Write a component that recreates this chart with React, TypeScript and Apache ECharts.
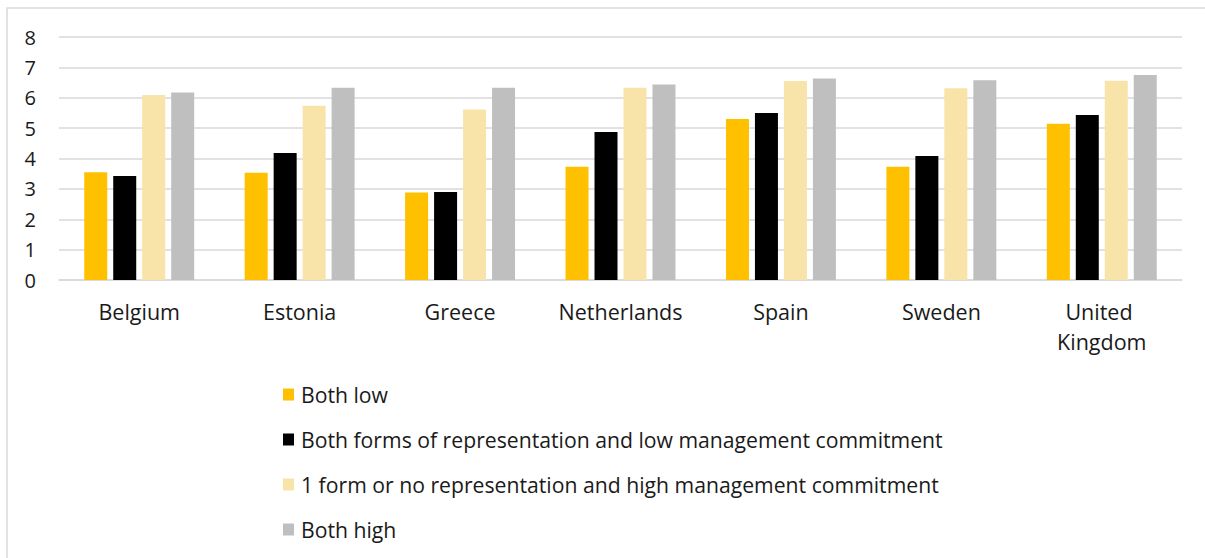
import React, { useEffect, useRef } from "react";
import * as echarts from "echarts";

const countries = ["Belgium", "Estonia", "Greece", "Netherlands", "Spain", "Sweden", "United Kingdom"];
const seriesNames = [
  "Both low",
  "Both forms of representation and low management commitment",
  "1 form or no representation and high management commitment",
  "Both high",
];
const bothLow = [3.55, 3.53, 2.88, 3.73, 5.3, 3.73, 5.14];
const repLowCommitment = [3.42, 4.18, 2.9, 4.87, 5.5, 4.08, 5.43];
const oneFormHighCommitment = [6.09, 5.74, 5.61, 6.33, 6.55, 6.31, 6.56];
const bothHigh = [6.17, 6.33, 6.33, 6.44, 6.63, 6.58, 6.75];
const seriesColors = ["#FFC000", "#000000", "#F8E3A9", "#BFBFBF"];

const seriesValues = [bothLow, repLowCommitment, oneFormHighCommitment, bothHigh];

export default function App() {
  const ref = useRef<HTMLDivElement>(null);

  useEffect(() => {
    if (!ref.current) return;
    const chart = echarts.init(ref.current, null, { renderer: "svg" });
    chart.setOption({
      animation: false,
      backgroundColor: "#ffffff",
      graphic: [
        {
          type: "rect",
          shape: { x: 7, y: 8, width: 1210, height: 570 },
          style: { fill: "none", stroke: "#d9d9d9", lineWidth: 1.5 },
          silent: true,
        },
      ],
      grid: { left: 59, right: 23, top: 37, bottom: 278 },
      xAxis: {
        type: "category",
        data: countries,
        axisTick: { show: false },
        axisLine: { show: true, lineStyle: { color: "#d9d9d9", width: 1.5 } },
        axisLabel: {
          color: "#1a1a1a",
          fontFamily: "Open Sans",
          fontSize: 21.5,
          lineHeight: 30,
          margin: 16,
          width: 145,
          overflow: "break",
          interval: 0,
        },
      },
      yAxis: {
        type: "value",
        min: 0,
        max: 8,
        interval: 1,
        axisLine: { show: false },
        axisTick: { show: false },
        splitLine: { lineStyle: { color: "#d9d9d9", width: 1.5 } },
        axisLabel: {
          color: "#1a1a1a",
          fontFamily: "Open Sans",
          fontSize: 20,
          margin: 23,
        },
      },
      legend: {
        orient: "vertical",
        left: 278,
        top: 377,
        itemWidth: 11,
        itemHeight: 12,
        itemGap: 20,
        icon: "rect",
        textStyle: {
          color: "#1a1a1a",
          fontFamily: "Open Sans",
          fontSize: 21.2,
          lineHeight: 25,
          padding: [0, 0, 0, 2],
        },
        data: seriesNames,
      },
      series: seriesNames.map((name, i) => ({
        name,
        type: "bar",
        data: seriesValues[i],
        barWidth: 23,
        barGap: "26%",
        itemStyle: { color: seriesColors[i] },
      })),
    });
    return () => chart.dispose();
  }, []);

  return (
    <div
      ref={ref}
      style={{ position: "fixed", left: 0, top: 0, width: 1205, height: 558 }}
    />
  );
}
